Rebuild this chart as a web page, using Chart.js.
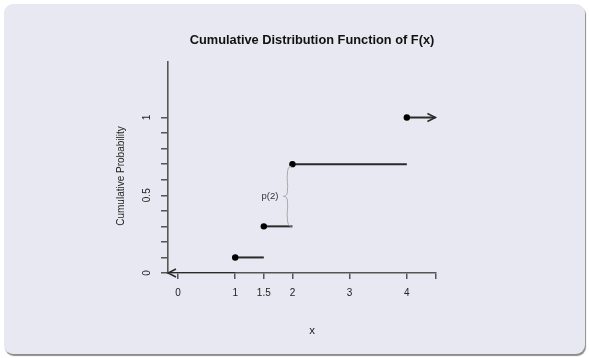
<!DOCTYPE html>
<html>
<head>
<meta charset="utf-8">
<script src="https://cdn.jsdelivr.net/npm/chart.js@4.4.1/dist/chart.umd.min.js"></script>
<style>
  html, body { margin: 0; padding: 0; background: #ffffff; }
  #wrap { position: relative; width: 589px; height: 358px; overflow: hidden; }
  #panel { position: absolute; left: 4px; top: 4px; width: 581px; height: 350px;
           background: #e8e8f2; border-radius: 9px; box-shadow: 1px 2px 1px #8c8c8c; }
  #c { position: absolute; left: 0; top: 0; }
</style>
</head>
<body>
<div id="wrap">
  <div id="panel"></div>
  <canvas id="c" width="589" height="358"></canvas>
</div>
<script>
// ---- data ----
const stepX = [1, 1.5, 2, 4];
const cdfValues = [0.1, 0.3, 0.7, 1.0];
const segmentEnds = [1.5, 2, 4, 4.5];
const leadStart = -0.175;
const xTickValues = [0, 1, 1.5, 2, 3, 4, 4.5];
const xTickLabels = ['0', '1', '1.5', '2', '3', '4', ''];
const yTickValues = [0, 0.1, 0.2, 0.3, 0.4, 0.5, 0.6, 0.7, 0.8, 0.9, 1.0];
const yTickLabels = ['0', '', '', '', '', '0.5', '', '', '', '', '1'];
const titleText = 'Cumulative Distribution Function of F(x)';
const xTitle = 'x';
const yTitle = 'Cumulative Probability';
const braceLabel = 'p(2)';
const braceX = 2;
const braceFrom = 0.3;
const braceTo = 0.7;

const xMin = -0.175, xMax = 4.51, yMin = 0, yMax = 1.357;

const lineColor = '#2a2a2a';
const axisColor = '#555555';

const datasets = [];
// leading zero segment
datasets.push({
  data: [{x: leadStart, y: 0}, {x: stepX[0], y: 0}],
  borderColor: lineColor, borderWidth: 2, pointRadius: 0, showLine: true
});
for (let i = 0; i < stepX.length; i++) {
  datasets.push({
    data: [{x: stepX[i], y: cdfValues[i]}, {x: segmentEnds[i], y: cdfValues[i]}],
    borderColor: lineColor, borderWidth: 2,
    pointRadius: [3.2, 0], pointBackgroundColor: '#000', pointBorderColor: '#000', pointBorderWidth: 0,
    showLine: true
  });
}

const FONT = '"Liberation Sans", Arial, sans-serif';

const decorPlugin = {
  id: 'decor',
  afterDatasetsDraw(chart) {
    const ctx = chart.ctx;
    const xs = chart.scales.x, ys = chart.scales.y;
    ctx.save();
    // arrowheads
    function arrow(px, py, dir) {
      ctx.strokeStyle = lineColor; ctx.lineWidth = 1.5;
      ctx.beginPath();
      ctx.moveTo(px - dir * 8, py - 4);
      ctx.lineTo(px, py);
      ctx.lineTo(px - dir * 8, py + 4);
      ctx.stroke();
    }
    arrow(xs.getPixelForValue(leadStart), ys.getPixelForValue(0), -1);
    const li = stepX.length - 1;
    arrow(xs.getPixelForValue(segmentEnds[li]), ys.getPixelForValue(cdfValues[li]), 1);

    // brace
    const xr = xs.getPixelForValue(braceX) - 1;
    const yTop = ys.getPixelForValue(braceTo) + 2;
    const yBot = ys.getPixelForValue(braceFrom);
    const yMid = (yTop + yBot) / 2;
    const xb = xr - 4, xt = xr - 8;
    ctx.strokeStyle = '#a8a8a8'; ctx.lineWidth = 1;
    ctx.beginPath();
    ctx.moveTo(xr, yTop);
    ctx.quadraticCurveTo(xb, yTop, xb, yTop + 8);
    ctx.bezierCurveTo(xb - 1, yTop + 14, xb + 1, yMid - 12, xb, yMid - 5);
    ctx.quadraticCurveTo(xb, yMid, xt, yMid);
    ctx.quadraticCurveTo(xb, yMid, xb, yMid + 5);
    ctx.bezierCurveTo(xb + 1, yMid + 12, xb - 1, yBot - 14, xb, yBot - 8);
    ctx.quadraticCurveTo(xb, yBot, xr, yBot);
    ctx.stroke();
    ctx.fillStyle = '#333';
    ctx.font = '9.5px ' + FONT;
    ctx.textAlign = 'right'; ctx.textBaseline = 'middle';
    ctx.fillText(braceLabel, xt - 5, yMid);

    // y tick labels (rotated, parallel to axis)
    ctx.fillStyle = '#222';
    ctx.font = '10px ' + FONT;
    ctx.textAlign = 'center'; ctx.textBaseline = 'middle';
    for (let i = 0; i < yTickValues.length; i++) {
      if (!yTickLabels[i]) continue;
      const py = ys.getPixelForValue(yTickValues[i]);
      ctx.save();
      ctx.translate(xs.left - 21, py);
      ctx.rotate(-Math.PI / 2);
      ctx.fillText(yTickLabels[i], 0, 0);
      ctx.restore();
    }

    // titles
    ctx.fillStyle = '#111';
    ctx.font = 'bold 12.8px ' + FONT;
    ctx.textAlign = 'center'; ctx.textBaseline = 'middle';
    ctx.fillText(titleText, 312, 40);
    ctx.fillStyle = '#222';
    ctx.font = '11.5px ' + FONT;
    ctx.fillText(xTitle, 312, 331);
    ctx.save();
    ctx.translate(121, 176);
    ctx.rotate(-Math.PI / 2);
    ctx.font = '10px ' + FONT;
    ctx.fillText(yTitle, 0, 0);
    ctx.restore();
    ctx.restore();
  }
};

new Chart(document.getElementById('c'), {
  type: 'scatter',
  data: { datasets },
  options: {
    responsive: false,
    animation: false,
    layout: { padding: { left: 0, top: 62, right: 153, bottom: 0 } },
    plugins: { legend: { display: false }, tooltip: { enabled: false }, title: { display: false } },
    scales: {
      x: {
        type: 'linear', min: xMin, max: xMax,
        afterBuildTicks(scale) { scale.ticks = xTickValues.map(v => ({ value: v })); },
        afterFit(scale) { scale.height = 85; },
        ticks: {
          autoSkip: false, maxRotation: 0, minRotation: 0,
          color: '#222', font: { size: 10, family: FONT }, padding: 8,
          callback(v, i) { return xTickLabels[i]; }
        },
        grid: { drawOnChartArea: false, drawTicks: true, tickLength: 6, color: axisColor, lineWidth: 1.5 },
        border: { display: true, color: axisColor, width: 1.6 }
      },
      y: {
        type: 'linear', min: yMin, max: yMax,
        afterBuildTicks(scale) { scale.ticks = yTickValues.map(v => ({ value: v })); },
        afterFit(scale) { scale.width = 168; },
        ticks: { display: false },
        grid: { drawOnChartArea: false, drawTicks: true, tickLength: 7, color: axisColor, lineWidth: 1.5 },
        border: { display: true, color: axisColor, width: 1.6 }
      }
    }
  },
  plugins: [decorPlugin]
});
</script>
</body>
</html>
